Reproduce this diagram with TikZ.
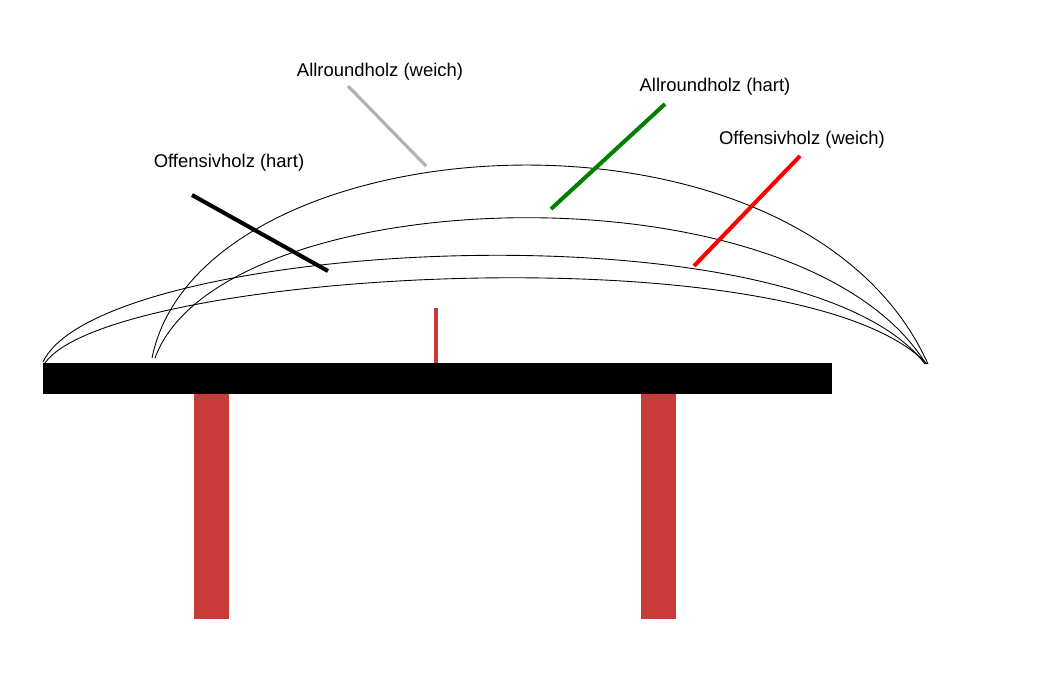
\documentclass[tikz,border=0pt]{standalone}
\usepackage{fontspec}
\setmainfont{Liberation Sans}
\usetikzlibrary{positioning}
\definecolor{tablered}{RGB}{201,58,58}
\definecolor{woodgreen}{RGB}{0,128,0}
\tikzset{
  label/.style={font=\fontsize{10.5}{12}\selectfont, inner sep=0pt},
  pointer/.style={line width=2.3pt},
  arc/.style={black, line width=0.5pt}
}
\begin{document}
\begin{tikzpicture}[x=0.02cm,y=-0.02cm]
\useasboundingbox (0,0) rectangle (1039,683);
% table
\fill[black] (43,363) rectangle (832,394);
\fill[tablered] (194,394) rectangle (229,619);
\fill[tablered] (641,394) rectangle (676,619);
\fill[tablered] (434,308) rectangle (438,363);
% trajectories
\draw[arc] (152,358) .. controls (200,120) and (800,80) .. (928,364);
\draw[arc] (155,358) .. controls (220,180) and (800,160) .. (926,364);
\draw[arc] (43,362) .. controls (100,240) and (800,200) .. (925,364);
\draw[arc] (45,363) .. controls (110,270) and (800,230) .. (927,364);
% labels
\node[label] (aw) at (380,72) {Allroundholz (weich)};
\node[label] (ah) at (715,87) {Allroundholz (hart)};
\node[label] (ow) at (802,140) {Offensivholz (weich)};
\node[label] (oh) at (229,163) {Offensivholz (hart)};
\coordinate (awend) at (426,166);
\coordinate (ahend) at (551,209);
\coordinate (owend) at (694,266);
\coordinate (ohend) at (328,271);
\draw[pointer, gray!60, line width=1.8pt] (348,86) -- (awend);
\draw[pointer, woodgreen] (665,104) -- (ahend);
\draw[pointer, red] (800,156) -- (owend);
\draw[pointer, black] (192,195) -- (ohend);
\end{tikzpicture}
\end{document}
